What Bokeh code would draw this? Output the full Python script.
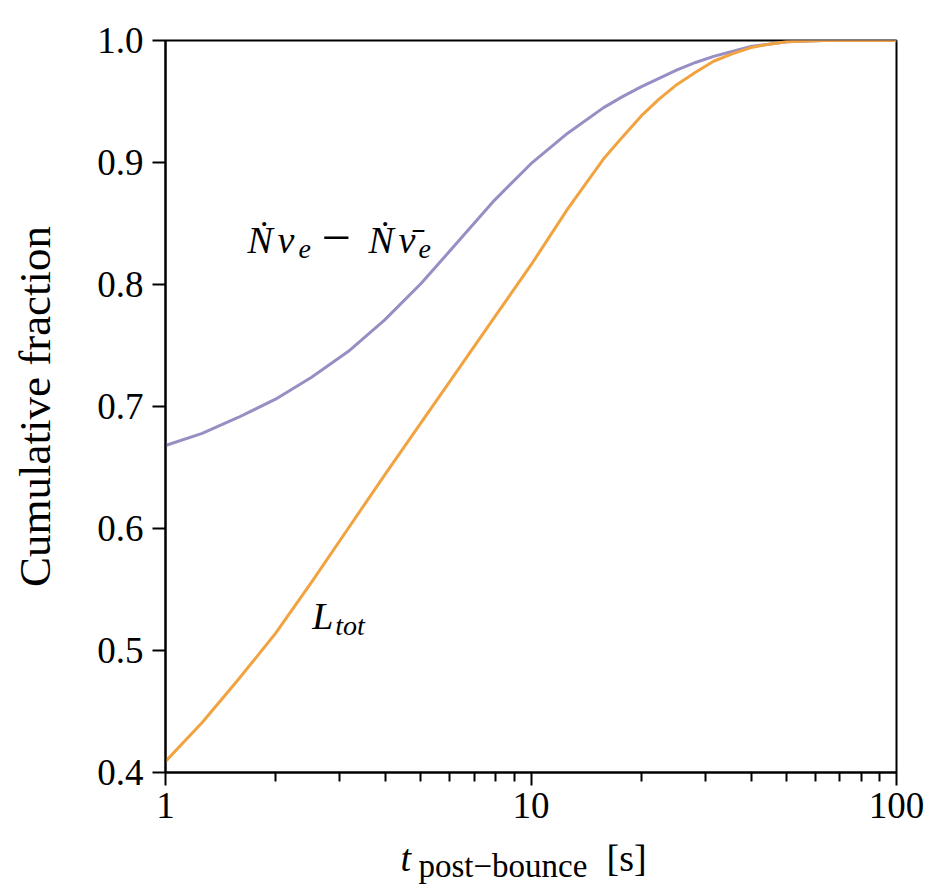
from bokeh.plotting import figure
from bokeh.models import Range1d, FixedTicker, PrintfTickFormatter, Label
from bokeh.layouts import column
from bokeh.core.properties import value
from bokeh.embed import file_html
from bokeh.resources import INLINE

# ---- data ----
t_nnu = [1, 1.26, 1.58, 2, 2.51, 3.16, 3.98, 5.01, 6.31, 7.94, 10, 12.6, 15.8,
         17.8, 20, 22.4, 25.1, 28.2, 31.6, 35.5, 39.8, 44.7, 50.1, 63.1, 100]
frac_nnu = [0.668, 0.678, 0.691, 0.706, 0.724, 0.745, 0.771, 0.801, 0.835, 0.869,
            0.899, 0.924, 0.945, 0.954, 0.962, 0.969, 0.976, 0.982, 0.987, 0.991,
            0.995, 0.997, 0.999, 1.0, 1.0]

t_ltot = [1, 1.26, 1.58, 2, 2.51, 3.16, 3.98, 5.01, 6.31, 7.94, 10, 12.6, 15.8,
          17.8, 20, 22.4, 25.1, 28.2, 31.6, 35.5, 39.8, 44.7, 50.1, 63.1, 100]
frac_ltot = [0.409, 0.441, 0.476, 0.514, 0.556, 0.600, 0.644, 0.687, 0.730, 0.773,
             0.816, 0.862, 0.903, 0.921, 0.938, 0.952, 0.964, 0.974, 0.983, 0.989,
             0.994, 0.997, 0.999, 1.0, 1.0]

x_ticks = [1, 10, 100]
x_minor = [2, 3, 4, 5, 6, 7, 8, 9, 20, 30, 40, 50, 60, 70, 80, 90]
y_ticks = [0.4, 0.5, 0.6, 0.7, 0.8, 0.9, 1.0]

PURPLE = "#998ec3"
ORANGE = "#f1a340"
FONT = "Liberation Serif"

W = 926
LEFT, RIGHT = 165, W - 896
H1 = 838
p = figure(width=W, height=H1, x_axis_type="log",
           x_range=Range1d(1, 100), y_range=Range1d(0.4, 1.0),
           output_backend="svg", toolbar_location=None)
p.min_border_left = LEFT
p.min_border_right = RIGHT
p.min_border_top = 40
p.min_border_bottom = H1 - 772
p.grid.visible = False
p.outline_line_color = "black"
p.outline_line_width = 2
p.background_fill_color = "white"
p.border_fill_color = "white"

p.line(t_nnu, frac_nnu, line_color=PURPLE, line_width=3)
p.line(t_ltot, frac_ltot, line_color=ORANGE, line_width=3)

# axes
xa = p.xaxis[0]
xa.ticker = FixedTicker(ticks=x_ticks, minor_ticks=x_minor)
xa.formatter = PrintfTickFormatter(format="%d")
ya = p.yaxis[0]
ya.ticker = FixedTicker(ticks=y_ticks)
ya.formatter = PrintfTickFormatter(format="%.1f")
for ax in (xa, ya):
    ax.axis_line_width = 2
    ax.axis_line_color = "black"
    ax.major_tick_line_width = 2
    ax.minor_tick_line_width = 2
    ax.major_tick_in = 0
    ax.major_tick_out = 13
    ax.minor_tick_in = 0
    ax.minor_tick_out = 9
    ax.major_label_text_font = FONT
    ax.major_label_text_font_size = "37px"
    ax.major_label_text_color = "black"
ya.minor_tick_line_color = None
xa.major_label_standoff = 7
ya.major_label_standoff = 9
ya.axis_label = "Cumulative fraction"
ya.axis_label_text_font = FONT
ya.axis_label_text_font_size = "45px"
ya.axis_label_text_font_style = "normal"
ya.axis_label_text_color = "black"
ya.axis_label_standoff = 34


def add(text, x, y, size, style="normal", xo=0, yo=0):
    p.add_layout(Label(x=x, y=y, x_units="data", y_units="data", text=text,
                       x_offset=xo, y_offset=yo,
                       text_font=FONT, text_font_size=size,
                       text_font_style=style, text_color="black",
                       text_baseline="alphabetic", text_align="left"))


# in-plot annotations (data anchored)
ax_n, ay_n = 1.676, 0.8254
add("N\u0307", ax_n, ay_n, "38px", "italic", xo=0, yo=14)
add("\u03bd", ax_n, ay_n, "38px", "italic", xo=30, yo=14)
add("e", ax_n, ay_n, "28px", "italic", xo=51, yo=5)
add("\u2212", ax_n, ay_n, "52px", "normal", xo=74, yo=16)
add("N\u0307", ax_n, ay_n, "38px", "italic", xo=121, yo=14)
add("\u03bd\u0304", ax_n, ay_n, "38px", "italic", xo=151, yo=14)
add("e", ax_n, ay_n, "28px", "italic", xo=171, yo=5)

ax_l, ay_l = 2.52, 0.5164
add("L", ax_l, ay_l, "38px", "italic", xo=0, yo=14)
add("tot", ax_l, ay_l, "28px", "italic", xo=23, yo=5)

# x-axis title strip; its frame is aligned with the main frame (x = page pixels)
H2 = 884 - H1
p2 = figure(width=W, height=H2, x_range=Range1d(LEFT, 896), y_range=Range1d(0, H2),
            x_axis_location=None, y_axis_location=None,
            output_backend="svg", toolbar_location=None)
p2.min_border_left = LEFT
p2.min_border_right = RIGHT
p2.min_border_top = 0
p2.min_border_bottom = 0
p2.grid.visible = False
p2.outline_line_color = None
p2.background_fill_color = "white"
p2.border_fill_color = "white"
p2.text(x=[400], y=[27], text=["t"], text_font=value(FONT), text_font_size="38px",
        text_font_style="italic", text_color="black", text_baseline="alphabetic")
p2.text(x=[418], y=[19], text=["post\u2212bounce"], text_font=value(FONT),
        text_font_size="33px", text_color="black", text_baseline="alphabetic")
p2.text(x=[606], y=[27], text=["[s]"], text_font=value(FONT), text_font_size="38px",
        text_color="black", text_baseline="alphabetic")

layout = column(p, p2, spacing=0)
open("out.html", "w").write(file_html(layout, INLINE))
